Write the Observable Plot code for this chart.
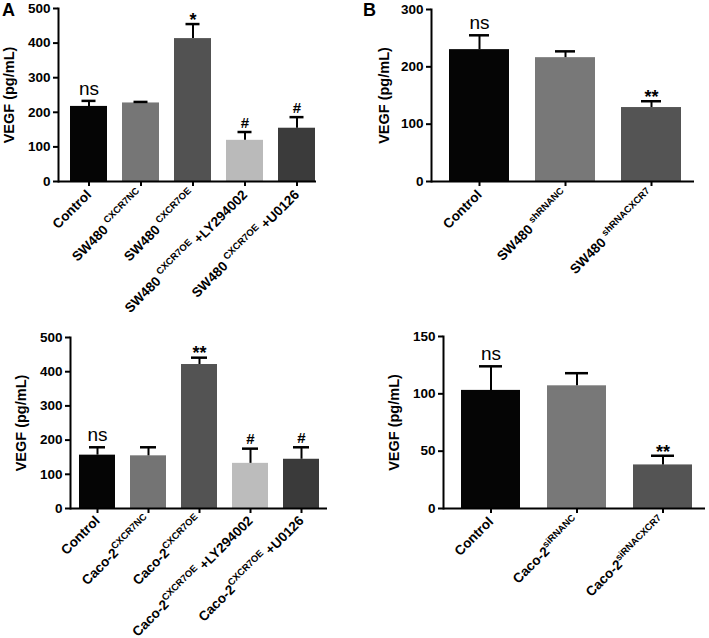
<!DOCTYPE html>
<html><head><meta charset="utf-8">
<script src="https://cdn.jsdelivr.net/npm/d3@7"></script>
<script src="https://cdn.jsdelivr.net/npm/@observablehq/plot@0.6"></script>
<style>
body{margin:0;background:#fff;}
#wrap{position:relative;width:709px;height:638px;overflow:hidden;background:#fff;font-family:"Liberation Sans",Arial,sans-serif;color:#000;}
.panel{position:absolute;}
.letter{position:absolute;font-weight:bold;font-size:18px;line-height:1;}
svg g[aria-label="x-axis tick label"]{font-size:13.5px;}
svg g[aria-label="y-axis tick label"]{font-size:13.5px;}
svg g[aria-label="y-axis label"]{font-size:14.5px;}
</style></head>
<body><div id="wrap">
<div class="letter" style="left:2px;top:1px">A</div>
<div class="letter" style="left:363px;top:1px">B</div>
<div class="panel" id="a1" style="left:0;top:0"></div>
<div class="panel" id="b1" style="left:360px;top:0"></div>
<div class="panel" id="a2" style="left:0;top:330px"></div>
<div class="panel" id="b2" style="left:360px;top:330px"></div>
</div>
<script>
// Panel A (top): SW480
const a1Base = ["Control", "SW480", "SW480", "SW480", "SW480"];
const a1Sup = ["", "CXCR7NC", "CXCR7OE", "CXCR7OE", "CXCR7OE"];
const a1Suf = ["", "", "", "+LY294002", "+U0126"];
const a1Mean = [217, 227, 413, 119, 154];
const a1Err = [16, 3, 42, 24, 32];
const a1Mark = ["ns", "", "*", "#", "#"];
const a1Colors = ["#050505", "#767676", "#525252", "#bababa", "#3b3b3b"];
const a1Ticks = [0, 100, 200, 300, 400, 500];

// Panel B (top): SW480 shRNA
const b1Base = ["Control", "SW480", "SW480"];
const b1Sup = ["", "shRNANC", "shRNACXCR7"];
const b1Suf = ["", "", ""];
const b1Mean = [230, 216, 129];
const b1Err = [25, 11, 11];
const b1Mark = ["ns", "", "**"];
const b1Colors = ["#050505", "#787878", "#545454"];
const b1Ticks = [0, 100, 200, 300];

// Panel A (bottom): Caco-2
const a2Base = ["Control", "Caco-2", "Caco-2", "Caco-2", "Caco-2"];
const a2Sup = ["", "CXCR7NC", "CXCR7OE", "CXCR7OE", "CXCR7OE"];
const a2Suf = ["", "", "", "+LY294002", "+U0126"];
const a2Mean = [156, 154, 421, 132, 144];
const a2Err = [23, 25, 20, 43, 35];
const a2Mark = ["ns", "", "**", "#", "#"];
const a2Colors = ["#050505", "#747474", "#535353", "#bcbcbc", "#3a3a3a"];
const a2Ticks = [0, 100, 200, 300, 400, 500];

// Panel B (bottom): Caco-2 siRNA
const b2Base = ["Control", "Caco-2", "Caco-2"];
const b2Sup = ["", "siRNANC", "siRNACXCR7"];
const b2Suf = ["", "", ""];
const b2Mean = [103, 107, 38];
const b2Err = [21, 11, 8];
const b2Mark = ["ns", "", "**"];
const b2Colors = ["#050505", "#787878", "#545454"];
const b2Ticks = [0, 50, 100, 150];

const NS = "http://www.w3.org/2000/svg";

function panel(o) {
  const labels = o.base.map((b, i) => b + (o.sup[i] ? (o.gap ? " " : "") + o.sup[i] : "") + (o.suf[i] ? " " + o.suf[i] : ""));
  const rows = labels.map((l, i) => ({label: l, mean: o.mean[i], top: o.mean[i] + o.err[i], color: o.colors[i], mark: o.mark[i]}));
  const svg = Plot.plot({
    width: o.width, height: o.height,
    marginTop: o.mt, marginBottom: o.mb, marginLeft: o.ml, marginRight: o.mr,
    style: {fontFamily: '"Liberation Sans", Arial, sans-serif', fontWeight: "bold", background: "transparent", color: "#000", overflow: "visible"},
    x: {type: "band", domain: labels, range: o.xRange, paddingInner: o.pi, paddingOuter: o.po},
    y: {domain: [0, o.yMax]},
    color: {type: "identity"},
    marks: [
      Plot.barY(rows, {x: "label", y: "mean", fill: "color"}),
      Plot.ruleX(rows, {x: "label", y1: "mean", y2: "top", stroke: "#000", strokeWidth: 2}),
      Plot.tickY(rows, {x: "label", y: "top", stroke: "#000", strokeWidth: 2.5, inset: o.capInset}),
      Plot.ruleY([0], {stroke: "#000", strokeWidth: 2}),
      Plot.frame({anchor: "left", stroke: "#000", strokeWidth: 2}),
      Plot.axisY({ticks: o.ticks, tickSize: 5, tickPadding: 3, strokeWidth: 2, label: "VEGF (pg/mL)", labelAnchor: "center", labelOffset: o.labelOffset, labelArrow: "none"}),
      Plot.axisX({tickRotate: -45, tickSize: 5, tickPadding: o.xPad, strokeWidth: 2, label: null}),
      Plot.text(rows.filter(d => d.mark === "ns"), {x: "label", y: "top", text: "mark", dy: -12, fontSize: 19, fontWeight: "normal"}),
      Plot.text(rows.filter(d => d.mark.startsWith("*")), {x: "label", y: "top", text: "mark", dy: -4, fontSize: 18, fontWeight: "bold"}),
      Plot.text(rows.filter(d => d.mark === "#"), {x: "label", y: "top", text: "mark", dy: -9, fontSize: 15, fontWeight: "bold"})
    ]
  });
  const texts = svg.querySelectorAll('g[aria-label="x-axis tick label"] text');
  texts.forEach((t, i) => {
    if (!o.sup[i]) return;
    while (t.firstChild) t.removeChild(t.firstChild);
    const add = (s, attrs) => {
      const e = document.createElementNS(NS, "tspan");
      e.textContent = s;
      for (const k in attrs) e.setAttribute(k, attrs[k]);
      t.appendChild(e);
    };
    add(o.base[i] + (o.gap ? "\u00a0" : ""), {});
    add(o.sup[i], {"font-size": "9.5px", dy: "-6"});
    if (o.suf[i]) add("\u00a0" + o.suf[i], {dy: "6"});
  });
  document.getElementById(o.id).appendChild(svg);
}

panel({id: "a1", base: a1Base, sup: a1Sup, suf: a1Suf, gap: true, mean: a1Mean, err: a1Err, mark: a1Mark, colors: a1Colors, ticks: a1Ticks,
  width: 340, height: 320, mt: 8, mb: 139, ml: 58, mr: 24, xRange: [62, 322], pi: 0.29, po: 0.145, yMax: 500, capInset: 11.5, labelOffset: 55, xPad: 6});
panel({id: "b1", base: b1Base, sup: b1Sup, suf: b1Suf, gap: true, mean: b1Mean, err: b1Err, mark: b1Mark, colors: b1Colors, ticks: b1Ticks,
  width: 349, height: 320, mt: 9, mb: 139, ml: 71, mr: 15, xRange: [75, 334.5], pi: 0.306, po: 0.153, yMax: 300, capInset: 20, labelOffset: 53, xPad: 6});
panel({id: "a2", base: a2Base, sup: a2Sup, suf: a2Suf, gap: false, mean: a2Mean, err: a2Err, mark: a2Mark, colors: a2Colors, ticks: a2Ticks,
  width: 345, height: 308, mt: 7, mb: 130, ml: 70, mr: 18, xRange: [70, 327.5], pi: 0.3, po: 0.15, yMax: 500, capInset: 10, labelOffset: 55, xPad: 5});
panel({id: "b2", base: b2Base, sup: b2Sup, suf: b2Suf, gap: false, mean: b2Mean, err: b2Err, mark: b2Mark, colors: b2Colors, ticks: b2Ticks,
  width: 349, height: 300, mt: 6, mb: 122, ml: 83, mr: 4, xRange: [87, 345], pi: 0.314, po: 0.157, yMax: 150, capInset: 18, labelOffset: 55, xPad: 6});
</script>
</body></html>
